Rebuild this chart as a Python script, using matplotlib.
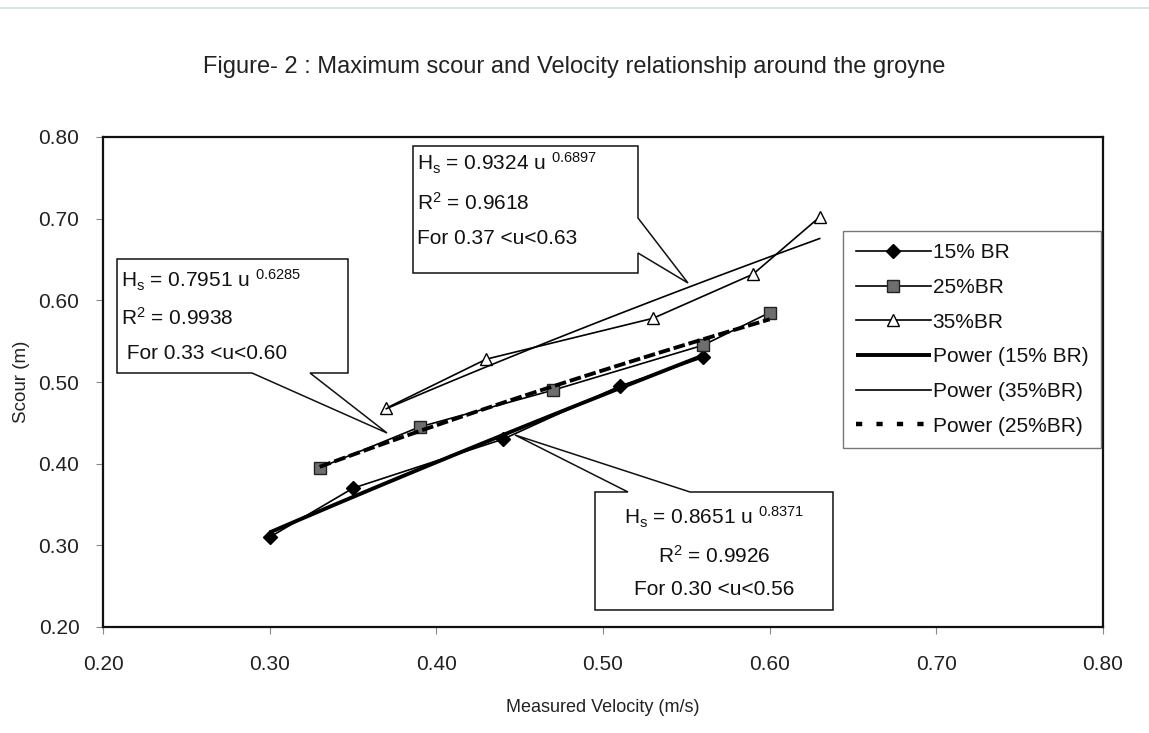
import numpy as np
import matplotlib
matplotlib.use("Agg")
import matplotlib.pyplot as plt
from matplotlib.patches import Polygon
from matplotlib.lines import Line2D

plt.rcParams['font.family'] = ['Liberation Sans', 'DejaVu Sans']
plt.rcParams['mathtext.fontset'] = 'custom'
plt.rcParams['mathtext.rm'] = 'Liberation Sans'
plt.rcParams['mathtext.it'] = 'Liberation Sans'
plt.rcParams['mathtext.bf'] = 'Liberation Sans:bold'

# ---- data ----
u15 = [0.30, 0.35, 0.44, 0.51, 0.56]
h15 = [0.31, 0.37, 0.43, 0.495, 0.53]
u25 = [0.33, 0.39, 0.47, 0.56, 0.60]
h25 = [0.395, 0.445, 0.49, 0.545, 0.585]
u35 = [0.37, 0.43, 0.53, 0.59, 0.63]
h35 = [0.468, 0.528, 0.578, 0.632, 0.702]

xticks = [0.20, 0.30, 0.40, 0.50, 0.60, 0.70, 0.80]
yticks = [0.20, 0.30, 0.40, 0.50, 0.60, 0.70, 0.80]

title = "Figure- 2 : Maximum scour and Velocity relationship around the groyne"
xlabel = "Measured Velocity (m/s)"
ylabel = "Scour (m)"

eq35 = ["H$_\\mathregular{s}$ = 0.9324 u $^\\mathregular{0.6897}$", "R$^\\mathregular{2}$ = 0.9618", "For 0.37 <u<0.63"]
eq25 = ["H$_\\mathregular{s}$ = 0.7951 u $^\\mathregular{0.6285}$", "R$^\\mathregular{2}$ = 0.9938", " For 0.33 <u<0.60"]
eq15 = ["H$_\\mathregular{s}$ = 0.8651 u $^\\mathregular{0.8371}$", "R$^\\mathregular{2}$ = 0.9926", "For 0.30 <u<0.56"]


def power_fit(u, h):
    u = np.asarray(u); h = np.asarray(h)
    b, lna = np.polyfit(np.log(u), np.log(h), 1)
    xs = np.linspace(u.min(), u.max(), 100)
    return xs, np.exp(lna) * xs ** b


fig = plt.figure(figsize=(11.49, 7.33), dpi=100)
ax = fig.add_axes([103/1149, 1-627/733, 1000/1149, 490/733])

ax.set_xlim(0.2, 0.8)
ax.set_ylim(0.2, 0.8)
ax.set_xticks(xticks)
ax.set_yticks(yticks)
ax.set_xticklabels([f"{v:.2f}" for v in xticks])
ax.set_yticklabels([f"{v:.2f}" for v in yticks])
ax.tick_params(axis='both', labelsize=15, length=5, width=0.8, color='#888888', colors='#222222')
ax.tick_params(axis='x', pad=15)
ax.tick_params(axis='y', pad=12)
for s in ax.spines.values():
    s.set_linewidth(1.6)
    s.set_color('#111111')

thin = 1.2
l1, = ax.plot(u15, h15, color='black', lw=thin, marker='D', ms=7, mfc='black', mec='black', label='15% BR', zorder=3)
l2, = ax.plot(u25, h25, color='black', lw=thin, marker='s', ms=8.5, mfc='#6e6e6e', mec='#222222', label='25%BR', zorder=3)
l3, = ax.plot(u35, h35, color='black', lw=thin, marker='^', ms=9, mfc='white', mec='black', label='35%BR', zorder=3)

x, y = power_fit(u15, h15)
p15, = ax.plot(x, y, color='black', lw=2.8, label='Power (15% BR)', zorder=4, solid_capstyle='butt')
x, y = power_fit(u35, h35)
p35, = ax.plot(x, y, color='black', lw=1.2, label='Power (35%BR)', zorder=4)
x, y = power_fit(u25, h25)
p25, = ax.plot(x, y, color='black', lw=2.8, ls=(0, (3, 1)), label='Power (25%BR)', zorder=4)
p25_leg = Line2D([], [], color='black', lw=3.2, ls=(0, (1.4, 3.2)), label='Power (25%BR)')

ax.set_xlabel(xlabel, fontsize=13, labelpad=18, color='#222222')
ax.set_ylabel(ylabel, fontsize=13.5, color='#222222')
ax.yaxis.set_label_coords(-0.073, 0.5)
fig.text(0.5, 1-67/733, title, ha='center', va='center', fontsize=17, color='#222222')

# ---- callout boxes (data coordinates) ----
def px2d(px, py):
    return (0.2 + (px - 103) / 1666.7, 0.8 - (py - 137) / 816.7)

def callout(pts):
    poly = Polygon([px2d(*p) for p in pts], closed=True, facecolor='white', edgecolor='#111111', lw=1.1,
                   zorder=6, clip_on=False, joinstyle='miter')
    ax.add_patch(poly)

callout([(413, 146), (638, 146), (638, 218), (688, 283), (638, 253), (638, 273), (413, 273)])
callout([(117, 259), (348, 259), (348, 373), (310, 373), (387, 433), (252, 373), (117, 373)])
callout([(595, 492), (628, 492), (515, 435), (690, 492), (833, 492), (833, 610), (595, 610)])

fs_box = 15
for txt, py in zip(eq35, [163, 203, 239]):
    ax.text(*px2d(417, py), txt, ha='left', va='center', fontsize=fs_box, zorder=7, color='#111111')
for txt, py in zip(eq25, [280, 318, 354]):
    ax.text(*px2d(121, py), txt, ha='left', va='center', fontsize=fs_box, zorder=7, color='#111111')
for txt, py in zip(eq15, [517, 556, 590]):
    ax.text(*px2d(714, py), txt, ha='center', va='center', fontsize=fs_box, zorder=7, color='#111111')

# ---- legend ----
leg = fig.legend(handles=[l1, l2, l3, p15, p35, p25_leg], loc='upper left',
                 bbox_to_anchor=(843/1149, 1-231/733), bbox_transform=fig.transFigure,
                 borderaxespad=0, fancybox=False, frameon=True, fontsize=15,
                 handlelength=3.6, handletextpad=0.1, labelspacing=0.75,
                 borderpad=0.6, edgecolor='#555555')
leg.get_frame().set_linewidth(1.0)
for t in leg.get_texts():
    t.set_color('#111111')

# faint scan border line at top
fig.add_artist(Line2D([0, 1], [1-8/733, 1-8/733], color='#cfe3d8', lw=1.2))

fig.savefig('out.png', dpi=100)
